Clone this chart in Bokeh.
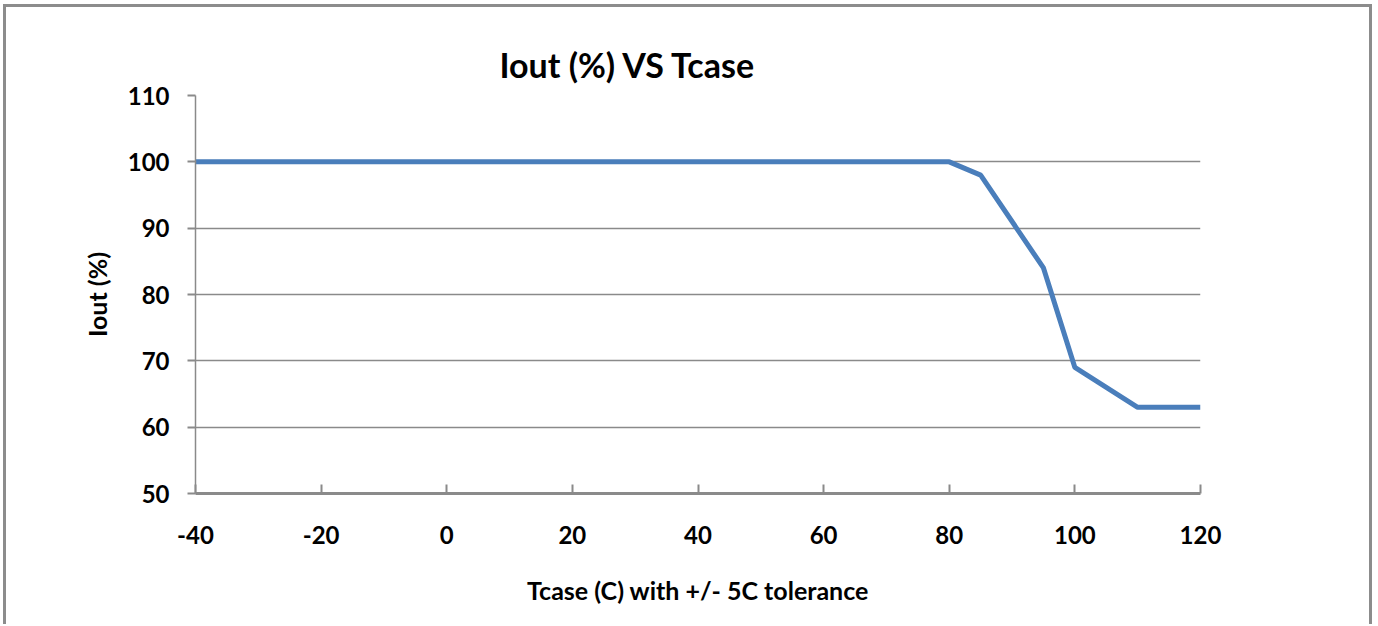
from bokeh.plotting import figure
from bokeh.models import Range1d, FixedTicker
from bokeh.embed import file_html
from bokeh.resources import INLINE

# Data
tcase = [-40, 80, 85, 95, 100, 110, 120]
iout = [100, 100, 98, 84, 69, 63, 63]
x_ticks = [-40, -20, 0, 20, 40, 60, 80, 100, 120]
y_ticks = [50, 60, 70, 80, 90, 100, 110]

FONT = "Lato"
GRAY = "#8a8a8a"

p = figure(frame_width=1005, frame_height=398,
           min_border_left=189, min_border_right=169,
           min_border_top=88, min_border_bottom=131,
           x_range=Range1d(-40, 120), y_range=Range1d(50, 110),
           output_backend="svg", toolbar_location=None,
           title="Iout (%) VS Tcase")
p.styles = {"border": "3px solid #8c8c8c", "border-bottom": "none",
            "margin-left": "3px", "margin-top": "4px"}
p.outline_line_color = None
p.background_fill_color = "white"
p.border_fill_color = "white"

p.title.text_font = FONT
p.title.text_font_style = "bold"
p.title.text_font_size = "34px"
p.title.text_color = "black"
p.title.align = "left"
p.title.offset = 304
p.title.standoff = 22

p.line(tcase, iout, line_color="#4a7ebb", line_width=5)

p.xaxis.ticker = FixedTicker(ticks=x_ticks)
p.yaxis.ticker = FixedTicker(ticks=y_ticks)
p.xaxis.major_label_overrides = {t: str(t) for t in x_ticks}
p.yaxis.major_label_overrides = {t: str(t) for t in y_ticks}

for ax in (p.xaxis[0], p.yaxis[0]):
    ax.major_label_text_font = FONT
    ax.major_label_text_font_style = "bold"
    ax.major_label_text_font_size = "24px"
    ax.major_label_text_color = "black"
    ax.axis_label_text_font = FONT
    ax.axis_label_text_font_style = "bold"
    ax.axis_label_text_font_size = "25px"
    ax.axis_label_text_color = "black"
    ax.minor_tick_line_color = None
    ax.axis_line_color = GRAY
    ax.major_tick_line_color = GRAY

p.xaxis.axis_label = "Tcase (C) with +/- 5C tolerance"
p.xaxis.axis_line_width = 3
p.xaxis.major_tick_line_width = 2
p.xaxis.major_tick_in = 9
p.xaxis.major_tick_out = 0
p.xaxis.major_label_standoff = 32
p.xaxis.axis_label_standoff = 28

p.yaxis.axis_label = "Iout (%)"
p.yaxis.axis_line_width = 1.5
p.yaxis.major_tick_line_width = 2
p.yaxis.major_tick_in = 0
p.yaxis.major_tick_out = 8
p.yaxis.major_label_standoff = 18
p.yaxis.axis_label_standoff = 13

p.xgrid.grid_line_color = None
p.ygrid.grid_line_color = GRAY
p.ygrid.grid_line_width = 1.5

open("out.html", "w").write(file_html(p, INLINE))
